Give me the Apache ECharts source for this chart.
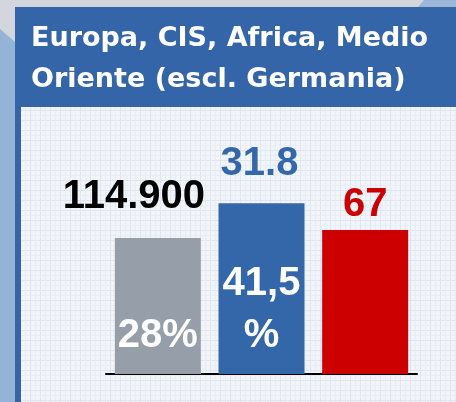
<!DOCTYPE html>
<html><head><meta charset="utf-8">
<script src="https://cdn.jsdelivr.net/npm/echarts@6/dist/echarts.min.js"></script>
<style>html,body{margin:0;padding:0;background:#D3D6DD}#c{width:456px;height:402px}</style>
</head><body><div id="c"></div>
<script>
const titleText = 'Europa, CIS, Africa, Medio\nOriente (escl. Germania)';
const categories = ['Grigio', 'Blu', 'Rosso'];
const barValues = [79.6, 100, 84.3];
const topLabels = ['114.900', '31.8', '67'];
const innerLabels = ['28%', '41,5\n%', ''];
const barColors = ['#969FA9', '#3466AA', '#CC0000'];
const topLabelColors = ['#000000', '#3466AA', '#CC0000'];

const FONT = '"Liberation Sans", Arial, sans-serif';
const TITLE_FONT = '"DejaVu Sans", Verdana, sans-serif';

// subtle grid pattern for the plot background
const pc = document.createElement('canvas');
pc.width = 10; pc.height = 10;
const px = pc.getContext('2d');
px.fillStyle = '#F1F4F9'; px.fillRect(0, 0, 10, 10);
px.fillStyle = '#DFE6F1'; px.fillRect(0, 0, 10, 1); px.fillRect(0, 0, 1, 10);
px.fillStyle = '#E8EDF5'; px.fillRect(5, 0, 1, 10); px.fillRect(0, 5, 10, 1);

const chart = echarts.init(document.getElementById('c'), null, {renderer: 'canvas'});
const topOffsets = [[-24, -16], [-2, -14], [0, 0]];

chart.setOption({
  animation: false,
  backgroundColor: '#D3D6DD',
  graphic: [
    {type: 'polygon', z: -10, shape: {points: [[0, 29], [15, 42], [15, 402], [0, 402]]}, style: {fill: '#95B3D7'}},
    {type: 'polygon', z: -10, shape: {points: [[418, 7], [424, 0], [456, 0], [456, 7]]}, style: {fill: '#9DB7DA'}},
    {type: 'rect', z: -10, shape: {x: 15, y: 7, width: 441, height: 100}, style: {fill: '#3465A9'}},
    {type: 'rect', z: -10, shape: {x: 15, y: 107, width: 6, height: 295}, style: {fill: '#3465A9'}},
    {type: 'rect', z: -10, shape: {x: 21, y: 107, width: 435, height: 295}, style: {fill: {image: pc, repeat: 'repeat'}}}
  ],
  title: {
    text: titleText,
    left: 31, top: 18, padding: 0,
    textStyle: {color: '#FFFFFF', fontFamily: TITLE_FONT, fontWeight: 'bold', fontSize: 27, lineHeight: 41}
  },
  grid: {left: 106, right: 39, top: 169, bottom: 28},
  xAxis: {
    type: 'category', data: categories,
    axisLine: {lineStyle: {color: '#000', width: 2}},
    axisTick: {show: false}, axisLabel: {show: false}
  },
  yAxis: {type: 'value', min: 0, max: 120, show: false, splitLine: {show: false}},
  series: [
    {
      type: 'bar', barWidth: 86,
      data: barValues.map((v, i) => ({
        value: v,
        itemStyle: {color: barColors[i]},
        label: {
          show: true, position: 'top', distance: 5, offset: topOffsets[i],
          formatter: topLabels[i], color: topLabelColors[i],
          fontFamily: FONT, fontWeight: 'bold', fontSize: 40
        }
      }))
    },
    {
      type: 'bar', barWidth: 86, barGap: '-100%', silent: true,
      itemStyle: {color: 'rgba(0,0,0,0)'},
      data: barValues.map((v, i) => ({
        value: v,
        label: {
          show: innerLabels[i] !== '', position: 'insideBottom', distance: 12,
          formatter: innerLabels[i], color: '#FFFFFF', align: 'center',
          fontFamily: FONT, fontWeight: 'bold', fontSize: 40, lineHeight: 52
        }
      }))
    }
  ]
});
</script></body></html>
